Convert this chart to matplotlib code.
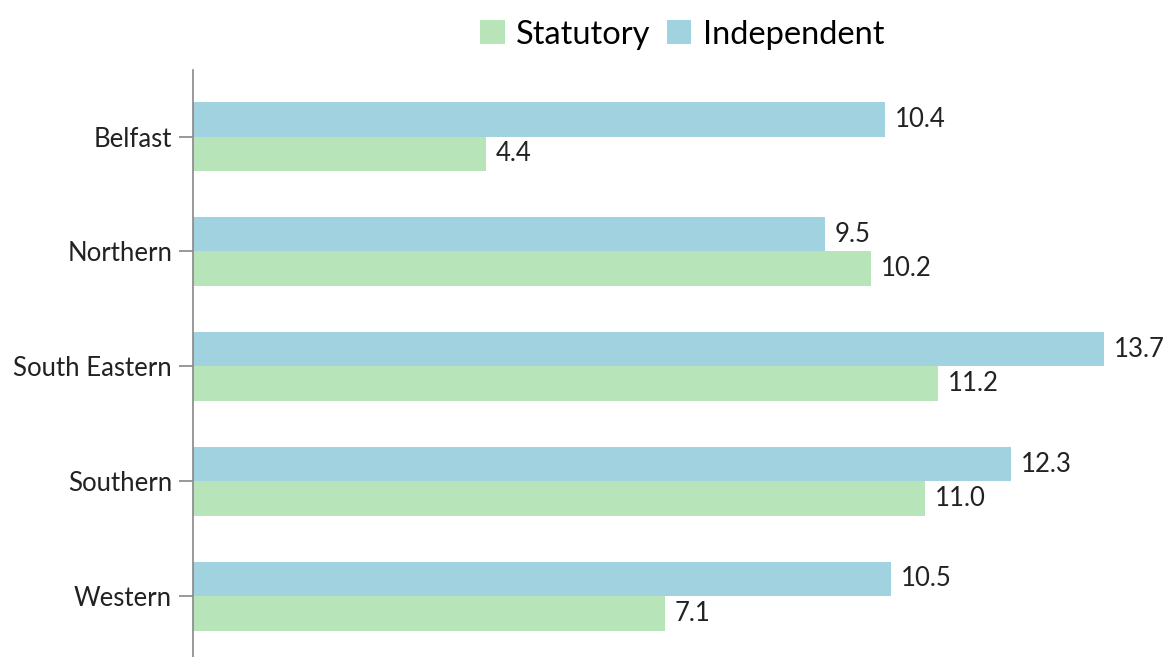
import matplotlib
matplotlib.use("Agg")
import matplotlib.pyplot as plt
import numpy as np

categories = ["Belfast", "Northern", "South Eastern", "Southern", "Western"]
statutory = [4.4, 10.2, 11.2, 11.0, 7.1]
independent = [10.4, 9.5, 13.7, 12.3, 10.5]

plt.rcParams['font.family'] = ['Lato', 'DejaVu Sans']

fig = plt.figure(figsize=(11.66, 6.57), dpi=100)
ax = fig.add_axes([193/1166, 0, (1124-193)/1166, 587/657])

y = np.arange(len(categories))
h = 0.3
c_stat = "#b7e4b9"
c_ind = "#a0d2e0"
ax.barh(y + h/2, statutory, height=h, color=c_stat, label="Statutory")
ax.barh(y - h/2, independent, height=h, color=c_ind, label="Independent")

for yi, v in zip(y, statutory):
    ax.text(v + 0.15, yi + h/2, f"{v:.1f}", va="center", ha="left", fontsize=18.5, color="#222222")
for yi, v in zip(y, independent):
    ax.text(v + 0.15, yi - h/2, f"{v:.1f}", va="center", ha="left", fontsize=18.5, color="#222222")

ax.set_xlim(0, 14)
ax.set_ylim(4.53, -0.58)
ax.set_yticks(y)
ax.set_yticklabels(categories, fontsize=18.5, color="#222222")
ax.tick_params(axis="y", length=10, color="#888888", width=1.2, pad=5)
ax.set_xticks([])
for s in ["top", "right", "bottom"]:
    ax.spines[s].set_visible(False)
ax.spines["left"].set_color("#888888")
ax.spines["left"].set_linewidth(1.2)

fig.legend(loc="upper center", bbox_to_anchor=(0.585, 1.0), ncol=2, frameon=False,
           fontsize=23.5, handlelength=0.75, handleheight=0.75, handletextpad=0.35,
           columnspacing=0.5, borderaxespad=0.2)

fig.savefig("out.png", dpi=100)
